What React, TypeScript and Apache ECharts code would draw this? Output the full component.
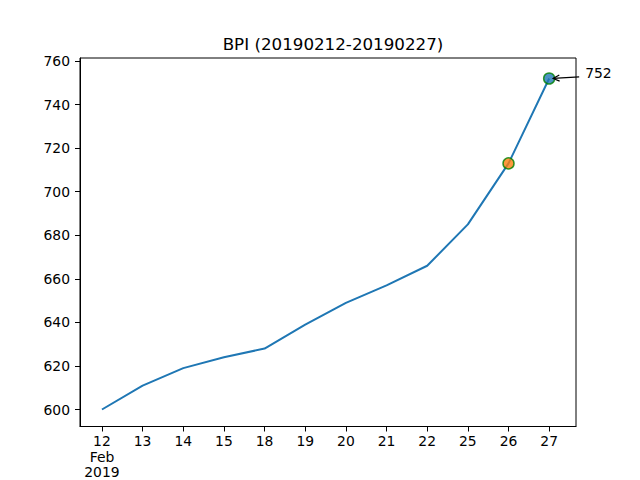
import React, { useEffect, useRef } from "react";
import * as echarts from "echarts";

const categories = ["12", "13", "14", "15", "18", "19", "20", "21", "22", "25", "26", "27"];
const firstLabelExtra = "Feb\n2019";
const values = [600, 611, 619, 624, 628, 639, 649, 657, 666, 685, 713, 752];
const yTicks = [600, 620, 640, 660, 680, 700, 720, 740, 760];
const highlightOrangeIndex = 10;
const highlightBlueIndex = 11;
const title = "BPI (20190212-20190227)";

export default function App() {
  const ref = useRef<HTMLDivElement>(null);
  useEffect(() => {
    document.body.style.margin = "0";
    const chart = echarts.init(ref.current!, null, { renderer: "svg" });
    const font = "DejaVu Sans";
    const lineData = values.map((v, i) => [i, v]);
    const option: any = {
      animation: false,
      backgroundColor: "#ffffff",
      textStyle: { fontFamily: font },
      title: {
        text: title,
        left: 328,
        textAlign: "center",
        top: 30,
        textStyle: { fontFamily: font, fontSize: 16.7, fontWeight: "normal", color: "#000" },
      },
      grid: {
        left: 80,
        right: 64,
        top: 58,
        bottom: 53,
        show: true,
        borderColor: "#000",
        borderWidth: 1,
        backgroundColor: "transparent",
      },
      xAxis: {
        type: "value",
        min: -0.54,
        max: 11.66,
        axisLine: { show: true, onZero: false, lineStyle: { color: "#000", width: 1 } },
        axisTick: {
          show: true,
          inside: false,
          length: 5,
          lineStyle: { color: "#000", width: 1 },
          customValues: categories.map((_, i) => i),
        },
        axisLabel: {
          customValues: categories.map((_, i) => i),
          formatter: (v: number) => {
            const i = Math.round(v);
            return i === 0 ? categories[0] + "\n" + firstLabelExtra : categories[i];
          },
          color: "#000",
          fontSize: 13.9,
          lineHeight: 15.5,
          margin: 7,
          fontFamily: font,
          verticalAlign: "top",
        },
        splitLine: { show: false },
      },
      yAxis: {
        type: "value",
        min: 592.2,
        max: 761.4,
        axisLine: { show: true, onZero: false, lineStyle: { color: "#000", width: 1 } },
        axisTick: {
          show: true,
          inside: false,
          length: 5,
          lineStyle: { color: "#000", width: 1 },
          customValues: yTicks,
        },
        axisLabel: {
          customValues: yTicks,
          color: "#000",
          fontSize: 13.9,
          margin: 10,
          fontFamily: font,
        },
        splitLine: { show: false },
      },
      series: [
        {
          type: "line",
          data: lineData,
          showSymbol: false,
          symbol: "none",
          lineStyle: { color: "#1f77b4", width: 2 },
          z: 2,
        },
        {
          type: "scatter",
          data: [[highlightOrangeIndex, values[highlightOrangeIndex]]],
          symbolSize: 11,
          itemStyle: { color: "#ff7f0e", borderColor: "green", borderWidth: 1.5 },
          z: 3,
        },
        {
          type: "scatter",
          data: [[highlightBlueIndex, values[highlightBlueIndex]]],
          symbolSize: 11,
          itemStyle: { color: "#1f77b4", borderColor: "green", borderWidth: 1.5 },
          z: 4,
        },
      ],
    };
    chart.setOption(option);
    const p = chart.convertToPixel({ gridIndex: 0 }, [highlightBlueIndex, values[highlightBlueIndex]]) as number[];
    const tx = p[0] + 36;
    const ty = p[1] - 5;
    const sx = p[0] + 30;
    const sy = p[1] - 1.5;
    const ex = p[0] + 4;
    const ey = p[1];
    const ang = Math.atan2(ey - sy, ex - sx);
    const hl = 7;
    const spread = 0.45;
    const h1 = [ex - hl * Math.cos(ang - spread), ey - hl * Math.sin(ang - spread)];
    const h2 = [ex - hl * Math.cos(ang + spread), ey - hl * Math.sin(ang + spread)];
    chart.setOption({
      graphic: [
        {
          type: "text",
          x: tx,
          y: ty,
          z: 10,
          style: {
            text: String(values[highlightBlueIndex]),
            fill: "#000",
            fontSize: 13.9,
            fontFamily: font,
            verticalAlign: "middle",
            align: "left",
          },
        },
        {
          type: "line",
          z: 10,
          shape: { x1: sx, y1: sy, x2: ex, y2: ey },
          style: { stroke: "#000", lineWidth: 1.2 },
        },
        {
          type: "polyline",
          z: 10,
          shape: { points: [h1, [ex, ey], h2] },
          style: { stroke: "#000", lineWidth: 1.2, fill: "none" },
        },
      ],
    });
    return () => chart.dispose();
  }, []);
  return <div ref={ref} style={{ width: 640, height: 480 }} />;
}
